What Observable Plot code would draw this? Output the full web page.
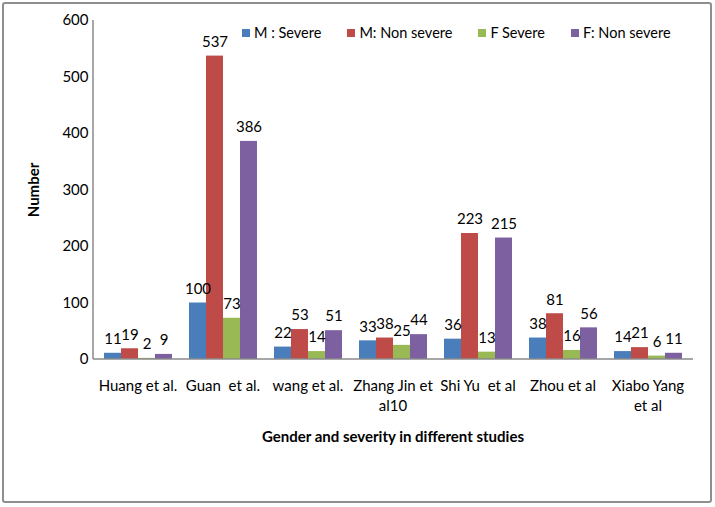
<!DOCTYPE html>
<html><head><meta charset="utf-8">
<script src="https://cdn.jsdelivr.net/npm/d3@7"></script>
<script src="https://cdn.jsdelivr.net/npm/@observablehq/plot@0.6"></script>
<style>
body{margin:0;background:#fff;font-family:Lato,"Open Sans",sans-serif}
#wrap{position:relative;width:715px;height:507px;overflow:hidden}
#wrap svg{position:absolute;left:0;top:0}
#border{position:absolute;left:2px;top:2px;width:710px;height:501px;border:2px solid #8e8e8e;border-radius:3px;box-sizing:border-box;pointer-events:none}
#legend{position:absolute;top:24px;left:242px;display:flex;font-size:14.5px;color:#000;white-space:nowrap}
#legend .it{display:flex;align-items:center;margin-right:26px}
#legend .sw{width:8px;height:8px;margin-right:4px}
g[aria-label="y-axis label"], g[aria-label="fx-axis label"]{font-weight:bold}
</style></head>
<body>
<div id="wrap"><div id="legend"></div><div id="border"></div></div>
<script>
const studies = ["Huang et al.", "Guan  et al.", "wang et al.", "Zhang Jin et al10", "Shi Yu  et al", "Zhou et al", "Xiabo Yang et al"];
const studyLabels = ["Huang et al.", "Guan  et al.", "wang et al.", "Zhang Jin et\nal10", "Shi Yu  et al", "Zhou et al", "Xiabo Yang\net al"];
const series = ["M : Severe", "M: Non severe", "F Severe", "F: Non severe"];
const colors = ["#4a7ebb", "#be4b48", "#98b954", "#7d60a0"];
const mSevere = [11, 100, 22, 33, 36, 38, 14];
const mNonSevere = [19, 537, 53, 38, 223, 81, 21];
const fSevere = [2, 73, 14, 25, 13, 16, 6];
const fNonSevere = [9, 386, 51, 44, 215, 56, 11];
const yTicks = [0, 100, 200, 300, 400, 500, 600];

const valueSets = [mSevere, mNonSevere, fSevere, fNonSevere];
const rows = [];
studies.forEach((s, i) => series.forEach((k, j) => rows.push({study: s, series: k, value: valueSets[j][i]})));
const labelOf = new Map(studies.map((s, i) => [s, studyLabels[i]]));

const chart = Plot.plot({
  width: 715, height: 507,
  marginLeft: 93, marginRight: 22, marginTop: 20, marginBottom: 148,
  style: {fontFamily: "Lato, 'Open Sans', sans-serif", fontSize: "14px", background: "transparent", color: "#000"},
  fx: {domain: studies, paddingInner: 0.163, paddingOuter: 0.093},
  x: {domain: series, axis: null, paddingInner: 0, paddingOuter: 0},
  y: {domain: [0, 600]},
  color: {domain: series, range: colors},
  marks: [
    Plot.barY(rows, {fx: "study", x: "series", y: "value", fill: "series"}),
    Plot.text(rows, {fx: "study", x: "series", y: "value", text: "value", dy: -14, fill: "#000", fontSize: 15}),
    Plot.axisY({ticks: yTicks, tickSize: 0, tickPadding: 14, fontSize: 15, label: "Number", labelAnchor: "center", labelOffset: 74, labelArrow: "none"}),
    Plot.axisFx({anchor: "bottom", tickSize: 0, tickPadding: 18, fontSize: 15, lineHeight: 1.3, tickFormat: d => labelOf.get(d), label: "Gender and severity in different studies", labelAnchor: "center", labelOffset: 82, labelArrow: "none"})
  ]
});

const wrap = document.getElementById("wrap");
wrap.insertBefore(chart, wrap.firstChild);

// axis lines drawn through the chart's own scales
const ys = chart.scale("y");
const svg = d3.select(chart);
const x0 = 93, x1 = 715 - 22;
svg.append("line").attr("x1", x0).attr("x2", x1).attr("y1", ys.apply(0)).attr("y2", ys.apply(0)).attr("stroke", "#8a8a8a").attr("stroke-width", 1.5);
svg.append("line").attr("x1", x0).attr("x2", x0).attr("y1", ys.apply(0)).attr("y2", ys.apply(600)).attr("stroke", "#8a8a8a").attr("stroke-width", 1.5);
svg.selectAll('g[aria-label="y-axis label"] text, g[aria-label="fx-axis label"] text').style("font-size", "15px");

const legend = d3.select("#legend");
series.forEach((s, i) => {
  const it = legend.append("div").attr("class", "it");
  it.append("div").attr("class", "sw").style("background", colors[i]);
  it.append("span").text(s);
});
</script>
</body></html>
